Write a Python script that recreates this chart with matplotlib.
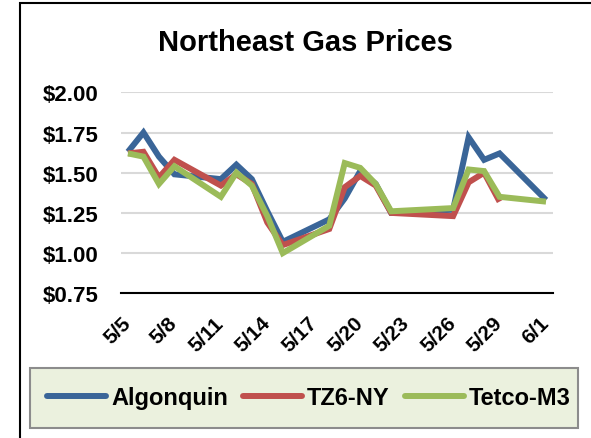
import matplotlib
matplotlib.use("Agg")
import matplotlib.pyplot as plt
import matplotlib.dates as mdates
from matplotlib.patches import Rectangle
from matplotlib.lines import Line2D
import numpy as np
import datetime as dt

# ---- data ----
dates = ["2015-05-05", "2015-05-06", "2015-05-07", "2015-05-08", "2015-05-11",
         "2015-05-12", "2015-05-13", "2015-05-14", "2015-05-15", "2015-05-18",
         "2015-05-19", "2015-05-20", "2015-05-21", "2015-05-22", "2015-05-26",
         "2015-05-27", "2015-05-28", "2015-05-29", "2015-06-01"]
algonquin = [1.63, 1.75, 1.60, 1.49, 1.46, 1.55, 1.46, 1.26, 1.07, 1.21,
             1.34, 1.51, 1.43, 1.25, 1.27, 1.72, 1.58, 1.62, 1.33]
tz6_ny = [1.62, 1.63, 1.47, 1.58, 1.42, 1.49, 1.43, 1.19, 1.05, 1.15,
          1.41, 1.48, 1.42, 1.25, 1.23, 1.44, 1.50, 1.32, np.nan]
tetco_m3 = [1.62, 1.60, 1.43, 1.54, 1.35, 1.50, 1.42, 1.23, 1.00, 1.17,
            1.56, 1.53, 1.43, 1.26, 1.28, 1.52, 1.51, 1.35, 1.32]
series_names = ["Algonquin", "TZ6-NY", "Tetco-M3"]
colors = ["#3A6598", "#C0504D", "#9BBB59"]
tick_dates = ["2015-05-05", "2015-05-08", "2015-05-11", "2015-05-14", "2015-05-17",
              "2015-05-20", "2015-05-23", "2015-05-26", "2015-05-29", "2015-06-01"]
tick_labels = ["5/5", "5/8", "5/11", "5/14", "5/17", "5/20", "5/23", "5/26", "5/29", "6/1"]
y_ticks = [0.75, 1.00, 1.25, 1.50, 1.75, 2.00]
title = "Northeast Gas Prices"

FONT = "Liberation Sans"
W, H = 591, 439
fig = plt.figure(figsize=(W / 100, H / 100), dpi=100)

# outer border (chart frame, cropped at right/bottom)
fig.patches.append(Rectangle((20 / W, -0.05), 1.2, 1.05 - 4 / H, transform=fig.transFigure,
                             facecolor="none", edgecolor="black", linewidth=1.5, zorder=0))

ax = fig.add_axes([121 / W, 1 - 294.3 / H, (553 - 121) / W, (294.3 - 93.3) / H])

x = [mdates.date2num(dt.datetime.strptime(d, "%Y-%m-%d")) for d in dates]
for vals, name, c in zip([algonquin, tz6_ny, tetco_m3], series_names, colors):
    ax.plot(x, vals, color=c, lw=4.3, solid_joinstyle="miter", solid_capstyle="butt",
            label=name, zorder=3)

x0 = mdates.date2num(dt.datetime(2015, 5, 5))
x1 = mdates.date2num(dt.datetime(2015, 6, 1))
ax.set_xlim(x0 - 0.45, x1 + 0.45)
ax.set_ylim(0.75, 2.00)

xt = [mdates.date2num(dt.datetime.strptime(d, "%Y-%m-%d")) for d in tick_dates]
ax.set_xticks(xt)
ax.set_xticklabels(tick_labels, rotation=45, ha="right", va="center",
                   rotation_mode="anchor", fontfamily=FONT, fontweight="bold", fontsize=15)
ax.set_yticks(y_ticks)
ax.set_yticklabels([f"${v:.2f}" for v in y_ticks], fontfamily=FONT, fontweight="bold", fontsize=16)
ax.tick_params(axis="x", length=0, pad=19)
ax.tick_params(axis="y", length=0, pad=16)

ax.grid(axis="y", color="#D9D9D9", lw=1.5, zorder=0)
ax.set_axisbelow(True)
for s in ["top", "right", "left"]:
    ax.spines[s].set_visible(False)
ax.spines["bottom"].set_linewidth(1.5)
ax.spines["bottom"].set_zorder(4)

fig.text(305 / W, 1 - 43 / H, title, ha="center", va="center",
         fontfamily=FONT, fontweight="bold", fontsize=21)

# legend box
fig.patches.append(Rectangle((30 / W, 1 - 429 / H), (578 - 30) / W, 60 / H,
                             transform=fig.transFigure, facecolor="#EBF1DE",
                             edgecolor="#8C8C8C", linewidth=1.5, zorder=1))
handles = [Line2D([], [], color=c, lw=4.3, solid_capstyle="round") for c in colors]
leg = fig.legend(handles, series_names, loc="center", bbox_to_anchor=(309 / W, 1 - 399 / H),
                 ncol=3, frameon=False, handlelength=2.5, handletextpad=0.2,
                 columnspacing=0.65, prop={"family": FONT, "weight": "bold", "size": 17})

fig.savefig("out.png", dpi=100)
